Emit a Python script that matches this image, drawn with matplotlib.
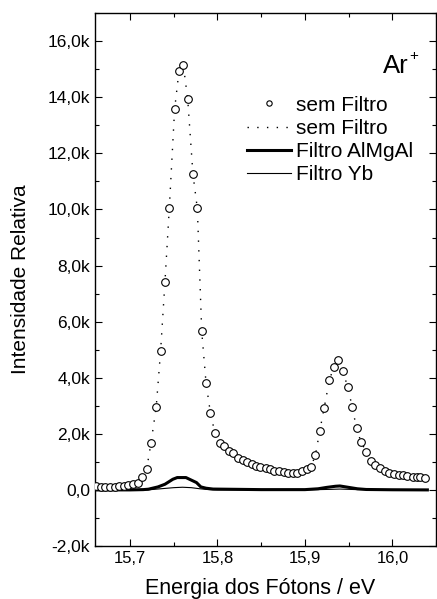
"""Ar+ photoelectron spectrum — with and without filters."""

import matplotlib
matplotlib.use("Agg")
import matplotlib.pyplot as plt
from matplotlib.ticker import FuncFormatter, MultipleLocator

plt.rcParams["font.family"] = ["Liberation Sans", "DejaVu Sans"]

# sem Filtro (measured points)
energia = [15.661, 15.667, 15.672, 15.677, 15.683, 15.688, 15.693, 15.698,
           15.703, 15.709, 15.714, 15.719, 15.724, 15.730, 15.735, 15.740,
           15.745, 15.751, 15.756, 15.761, 15.766, 15.772, 15.777, 15.782,
           15.787, 15.792, 15.797, 15.803, 15.808, 15.813, 15.818, 15.824,
           15.829, 15.834, 15.839, 15.844, 15.849, 15.855, 15.860, 15.865,
           15.870, 15.876, 15.881, 15.886, 15.891, 15.897, 15.902, 15.907,
           15.912, 15.917, 15.922, 15.928, 15.933, 15.938, 15.943, 15.949,
           15.954, 15.959, 15.964, 15.970, 15.975, 15.980, 15.986, 15.991,
           15.996, 16.002, 16.007, 16.012, 16.017, 16.023, 16.028, 16.032,
           16.037]
sem_filtro = [143, 107, 107, 119, 119, 133, 155, 179, 202, 238, 475, 738,
              1667, 2964, 4952, 7428, 10070, 13570, 14927, 15141, 13927,
              11250, 10035, 5654, 3796, 2738, 2040, 1667, 1548, 1393, 1310,
              1155, 1060, 988, 917, 857, 833, 798, 738, 690, 679, 655, 619,
              595, 619, 690, 762, 833, 1245, 2107, 2930, 3917, 4390, 4631,
              4255, 3667, 2964, 2202, 1714, 1369, 1024, 893, 798, 679, 619,
              571, 548, 524, 500, 476, 464, 452, 417]

# Filtro AlMgAl
energia_almgal = [15.661, 15.700, 15.715, 15.721, 15.732, 15.740, 15.749,
                  15.754, 15.764, 15.768, 15.776, 15.781, 15.787, 15.795,
                  15.850, 15.900, 15.915, 15.925, 15.935, 15.940, 15.950,
                  15.960, 15.970, 16.000, 16.040]
filtro_almgal = [0, 0, 10, 25, 107, 202, 380, 440, 440, 380, 262, 107, 60,
                 30, 10, 10, 40, 90, 130, 140, 90, 40, 15, 5, 0]

# Filtro Yb
energia_yb = [15.661, 15.720, 15.735, 15.750, 15.760, 15.770, 15.780,
              15.790, 15.800, 15.900, 15.930, 15.940, 15.960, 16.040]
filtro_yb = [0, 0, 40, 80, 95, 80, 40, 10, 0, 0, 20, 30, 10, 0]


def fmt_k(v, pos):
    if abs(v) < 1e-9:
        return "0,0"
    return f"{v / 1000:.1f}k".replace(".", ",")


fig = plt.figure(figsize=(4.37, 5.99), dpi=100)
ax = fig.add_axes([0.2174, 0.0885, 0.7806, 0.8895])

ax.plot(energia, sem_filtro, linestyle="none", marker="o", markersize=5.5,
        markerfacecolor="white", markeredgecolor="black",
        markeredgewidth=0.8, label="sem Filtro", zorder=3)
ax.plot(energia, sem_filtro, color="black", linewidth=1.0,
        linestyle=(0, (1, 6)), label="sem Filtro", zorder=2)
ax.plot(energia_almgal, filtro_almgal, color="black", linewidth=2.2,
        label="Filtro AlMgAl")
ax.plot(energia_yb, filtro_yb, color="black", linewidth=0.8,
        label="Filtro Yb")

ax.set_xlim(15.66, 16.05)
ax.set_ylim(-2000, 17000)
ax.xaxis.set_major_locator(MultipleLocator(0.1))
ax.xaxis.set_minor_locator(MultipleLocator(0.05))
ax.yaxis.set_major_locator(MultipleLocator(2000))
ax.yaxis.set_minor_locator(MultipleLocator(1000))
ax.xaxis.set_major_formatter(FuncFormatter(lambda v, p: f"{v:.1f}".replace(".", ",")))
ax.yaxis.set_major_formatter(FuncFormatter(fmt_k))
ax.tick_params(which="both", direction="in", top=True, right=True,
               labelsize=12, width=0.8)
ax.tick_params(axis="y", labelsize=12.5)
ax.tick_params(which="major", length=5)
ax.tick_params(which="minor", length=3)
for s in ax.spines.values():
    s.set_linewidth(1.0)

ax.set_xlabel("Energia dos Fótons / eV", fontsize=15.5)
ax.xaxis.set_label_coords(0.485, -0.06, transform=ax.transAxes)
ax.xaxis.label.set_va("top")
ax.set_ylabel("Intensidade Relativa", fontsize=15, labelpad=13)

ax.text(0.92, 0.887, "Ar", transform=ax.transAxes, fontsize=18.5,
        ha="right", va="baseline")
ax.text(0.922, 0.912, "+", transform=ax.transAxes, fontsize=11,
        ha="left", va="baseline")

ax.legend(loc="upper left", bbox_to_anchor=(0.446, 0.845), frameon=False,
          fontsize=15, handlelength=2.1, handletextpad=0.25,
          labelspacing=0.2, borderaxespad=0, borderpad=0, markerscale=0.7)

fig.savefig("out.png", dpi=100)
plt.close(fig)
